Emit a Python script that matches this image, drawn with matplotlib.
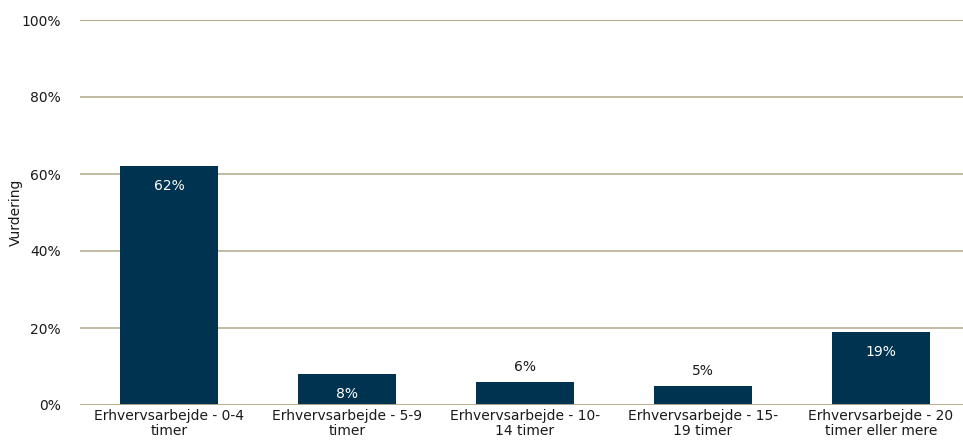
import matplotlib
matplotlib.use("Agg")
import matplotlib.pyplot as plt
from matplotlib.ticker import FuncFormatter

categories = ["Erhvervsarbejde - 0-4\ntimer", "Erhvervsarbejde - 5-9\ntimer",
              "Erhvervsarbejde - 10-\n14 timer", "Erhvervsarbejde - 15-\n19 timer",
              "Erhvervsarbejde - 20\ntimer eller mere"]
values = [62, 8, 6, 5, 19]
labels_inside = [True, True, False, False, True]
yticks = [0, 20, 40, 60, 80, 100]

bar_color = "#003350"
grid_color = "#b9ae92"
text_color = "#1a1a1a"

plt.rcParams['font.family'] = ['DejaVu Sans']
fig = plt.figure(figsize=(9.63, 4.45), dpi=100)
ax = fig.add_axes([80/963, 40/445, 883/963, 385/445])

x = list(range(len(categories)))
bars = ax.bar(x, values, width=0.556, color=bar_color, zorder=3)
ax.set_xlim(-0.5, -0.5 + 883/178)
ax.set_ylim(0, 100)
ax.set_yticks(yticks)
ax.yaxis.set_major_formatter(FuncFormatter(lambda v, p: f"{int(v)}%"))
ax.grid(axis='y', color=grid_color, linewidth=1.2, zorder=0)
ax.axhline(100, color="#8f8060", linewidth=1.4, zorder=1)
ax.axhline(0, color=grid_color, linewidth=2, zorder=4)
for s in ax.spines.values():
    s.set_visible(False)
ax.tick_params(axis='both', length=0, labelsize=10, colors=text_color)
ax.tick_params(axis='y', pad=14)
ax.tick_params(axis='x', pad=3)
ax.set_xticks(x)
ax.set_xticklabels(categories, fontsize=10, color=text_color, linespacing=1.1)
ax.set_ylabel("Vurdering", fontsize=10, color=text_color)
ax.yaxis.set_label_coords(-57/883, 0.5)

for xi, v, inside in zip(x, values, labels_inside):
    if inside:
        ax.annotate(f"{v}%", (xi, v), xytext=(0, -20), textcoords='offset pixels',
                    ha='center', va='center', color='white', fontsize=10, zorder=5)
    else:
        ax.annotate(f"{v}%", (xi, v), xytext=(0, 15), textcoords='offset pixels',
                    ha='center', va='center', color=text_color, fontsize=10, zorder=5)

fig.savefig("out.png", dpi=100)
